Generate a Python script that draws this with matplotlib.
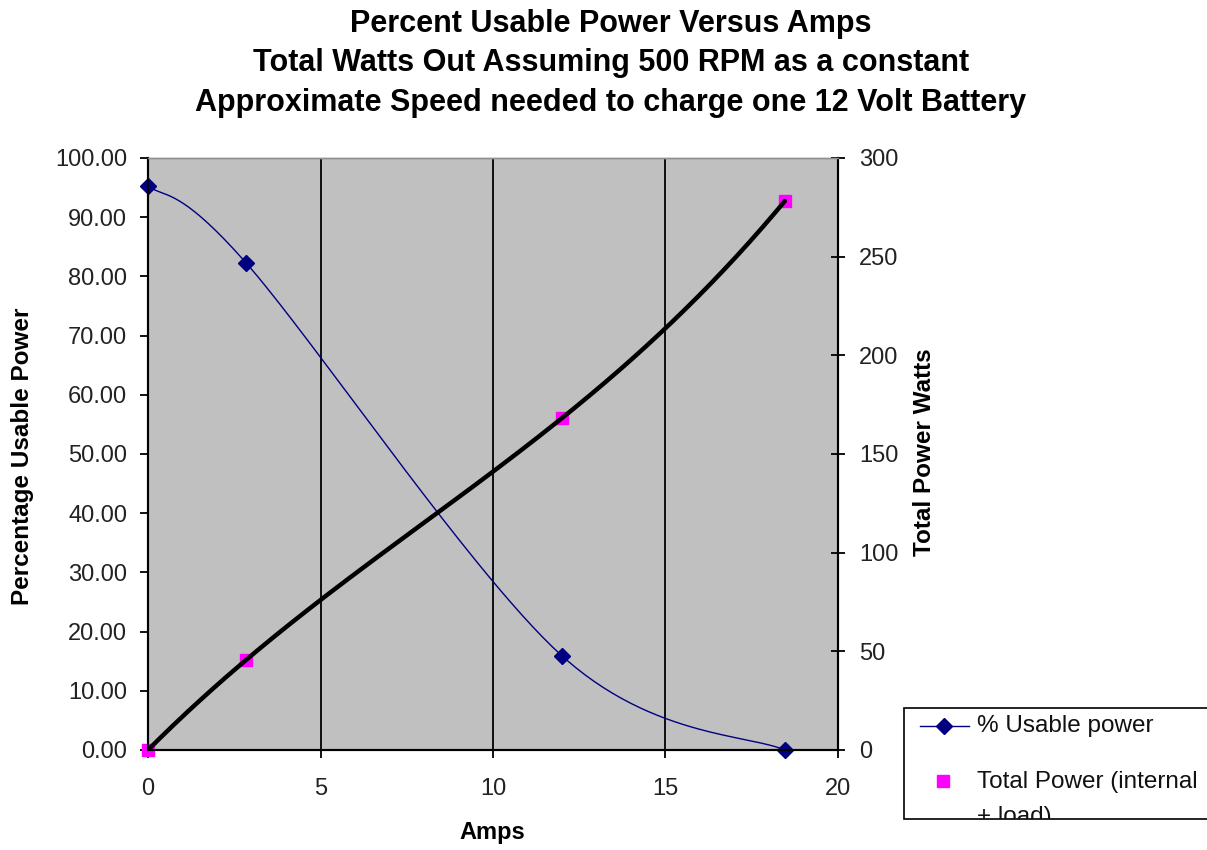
import matplotlib
matplotlib.use("Agg")
import matplotlib.pyplot as plt
from matplotlib.patches import Rectangle
from matplotlib.lines import Line2D
import numpy as np

plt.rcParams['font.family'] = ['Liberation Sans', 'DejaVu Sans']

# data
amps = [0.0, 2.84, 12.0, 18.46]
usable_pct = [95.3, 82.3, 15.9, 0.0]
total_watts = [0.0, 45.6, 168.2, 278.2]

title_lines = ["Percent Usable Power Versus Amps",
               "Total Watts Out Assuming 500 RPM as a constant",
               "Approximate Speed needed to charge one 12 Volt Battery"]
x_ticks = [0, 5, 10, 15, 20]
left_ticks = [0, 10, 20, 30, 40, 50, 60, 70, 80, 90, 100]
right_ticks = [0, 50, 100, 150, 200, 250, 300]


def excel_smooth(xs, ys, n=60):
    # Excel-style smoothed line: cubic Bezier segments, tangents from neighbours
    p = np.column_stack([xs, ys]).astype(float)
    ext = np.vstack([p[0], p, p[-1]])
    out = []
    for i in range(len(p) - 1):
        p0, p1, p2, p3 = ext[i], ext[i + 1], ext[i + 2], ext[i + 3]
        c1 = p1 + (p2 - p0) / 6.0
        c2 = p2 - (p3 - p1) / 6.0
        t = np.linspace(0, 1, n)[:, None]
        seg = ((1 - t) ** 3) * p1 + 3 * ((1 - t) ** 2) * t * c1 + 3 * (1 - t) * t ** 2 * c2 + t ** 3 * p2
        out.append(seg)
    s = np.vstack(out)
    return s[:, 0], s[:, 1]


W, H = 1207, 850
fig = plt.figure(figsize=(W / 100, H / 100), dpi=100)
ax = fig.add_axes([148 / W, 1 - 750 / H, (838 - 148) / W, (750 - 158) / H])
ax.set_facecolor('#c0c0c0')
ax2 = ax.twinx()

ax.set_xlim(0, 20)
ax.set_ylim(0, 100)
ax2.set_ylim(0, 300)

for gx in x_ticks[1:-1]:
    ax.axvline(gx, color='black', lw=1.3, zorder=1)

sx, sy = excel_smooth(amps, usable_pct)
ax.plot(sx, sy, color='#000080', lw=1.0, zorder=3, clip_on=False)
ax.plot(amps, usable_pct, ls='none', marker='D', ms=8, color='#000080', zorder=4, clip_on=False)

# black curve: cubic trend through the power points
coef = np.polyfit(amps, total_watts, 3)
tx = np.linspace(amps[0], amps[-1], 200)
ax2.plot(tx, np.polyval(coef, tx), color='black', lw=3.2, zorder=3, solid_capstyle='round')
ax2.plot(amps, total_watts, ls='none', marker='s', ms=8.5, color='#ff00ff', zorder=2, clip_on=False)

ax.set_xticks(x_ticks)
ax.set_yticks(left_ticks)
ax.set_yticklabels([f"{v:.2f}" for v in left_ticks])
ax2.set_yticks(right_ticks)

ax.tick_params(axis='y', direction='out', length=6, width=1.3, labelsize=17, labelcolor='#222222', pad=9)
ax.tick_params(axis='x', direction='out', length=6, width=1.3, labelsize=17, labelcolor='#222222', pad=14)
ax2.tick_params(axis='y', direction='inout', length=10, width=1.3, labelsize=17, labelcolor='#222222', pad=10)

for a in (ax, ax2):
    a.spines['top'].set_color('#909090')
    a.spines['top'].set_linewidth(1.0)
    a.spines['left'].set_linewidth(1.5)
    a.spines['bottom'].set_linewidth(1.5)
    a.spines['right'].set_linewidth(1.5)
ax2.patch.set_visible(False)

fig.text(23 / W, 1 - 456 / H, "Percentage Usable Power", rotation=90, ha='center', va='center',
         fontsize=17.5, fontweight='bold')
fig.text(924 / W, 1 - 452 / H, "Total Power Watts", rotation=90, ha='center', va='center',
         fontsize=17.5, fontweight='bold')
fig.text(492 / W, 1 - 833 / H, "Amps", ha='center', va='center', fontsize=17, fontweight='bold')

for i, line in enumerate(title_lines):
    fig.text(611 / W, 1 - (24 + 39.5 * i) / H, line, ha='center', va='center',
             fontsize=22, fontweight='bold')

# legend box, cut off at the right and bottom as in the original
box = Rectangle((904 / W, 1 - 819 / H), (1215 - 904) / W, (819 - 708) / H,
                transform=fig.transFigure, facecolor='white', edgecolor='black', lw=1.2)
fig.patches.append(box)
fig.lines.append(Line2D([920 / W, 969 / W], [1 - 726 / H, 1 - 726 / H], transform=fig.transFigure,
                        color='#000080', lw=1.0))
fig.lines.append(Line2D([944 / W], [1 - 726 / H], transform=fig.transFigure, ls='none',
                        marker='D', ms=8, color='#000080'))
fig.lines.append(Line2D([943 / W], [1 - 781 / H], transform=fig.transFigure, ls='none',
                        marker='s', ms=9, color='#ff00ff'))
fig.text(977 / W, 1 - 726 / H, "% Usable power", ha='left', va='center', fontsize=17.5, color='#111111')
t2 = fig.text(977 / W, 1 - 771 / H, "Total Power (internal\n+ load)", ha='left', va='top', fontsize=17.5,
              color='#111111', linespacing=1.75)
t2.set_clip_path(box)

fig.savefig('out.png', dpi=100)
